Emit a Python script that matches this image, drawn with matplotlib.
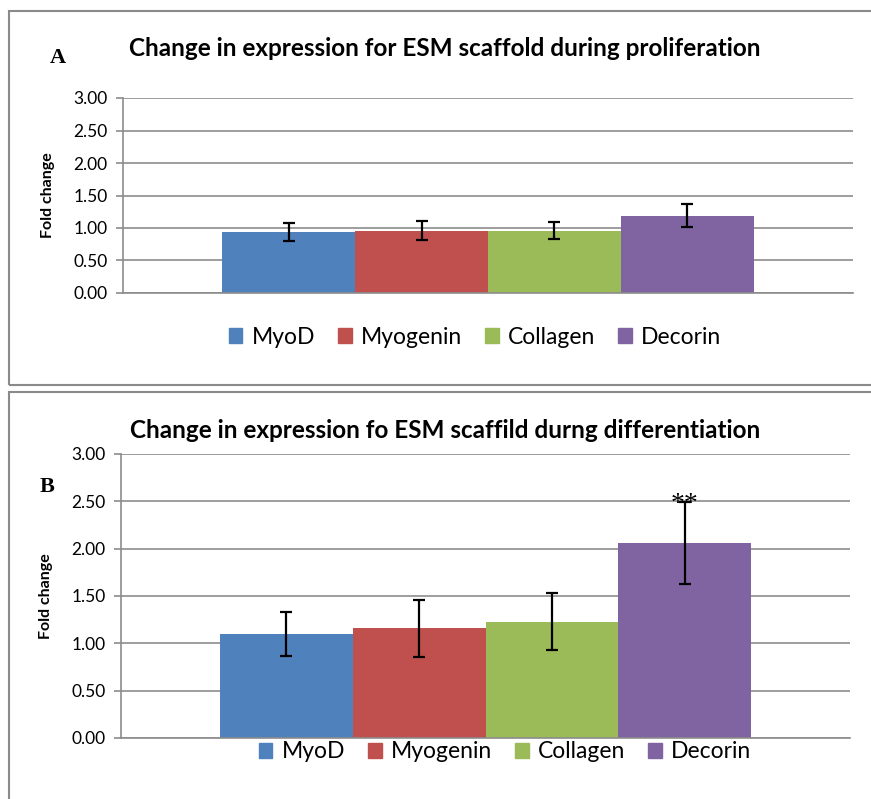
import matplotlib
matplotlib.use("Agg")
import matplotlib.pyplot as plt
from matplotlib.patches import Patch, Rectangle

# Data
genes = ["MyoD", "Myogenin", "Collagen", "Decorin"]
colors = ["#4F81BD", "#C0504D", "#9BBB59", "#8064A2"]

prolif_mean = [0.94, 0.96, 0.96, 1.19]
prolif_err = [0.14, 0.14, 0.13, 0.18]

diff_mean = [1.10, 1.16, 1.23, 2.06]
diff_err = [0.235, 0.30, 0.30, 0.43]

yticks = [0.0, 0.5, 1.0, 1.5, 2.0, 2.5, 3.0]

plt.rcParams["font.family"] = ["Lato", "DejaVu Sans"]

W, H = 871, 799
fig = plt.figure(figsize=(W / 100, H / 100), dpi=100)
grid_col = "#8c8c8c"


def px(x0, y0, x1, y1):
    # pixel box -> figure fraction [left, bottom, width, height]
    return [x0 / W, 1 - y1 / H, (x1 - x0) / W, (y1 - y0) / H]


def draw_panel(ax, means, errs):
    bw = 0.182
    for i, (m, e, c) in enumerate(zip(means, errs, colors)):
        xpos = (i - 1.5) * bw
        ax.bar(xpos, m, width=bw, color=c, zorder=2)
        ax.errorbar(xpos, m, yerr=e, fmt="none", ecolor="black",
                    elinewidth=1.6, capsize=4.5, capthick=1.6, zorder=3)
    ax.set_xlim(-0.5, 0.5)
    ax.set_ylim(0, 3)
    ax.set_yticks(yticks)
    ax.set_yticklabels([f"{t:.2f}" for t in yticks], fontsize=12.5)
    ax.set_xticks([])
    ax.yaxis.grid(True, color=grid_col, linewidth=1.2, zorder=0)
    ax.set_axisbelow(True)
    for s in ["top", "right"]:
        ax.spines[s].set_visible(False)
    ax.spines["left"].set_color(grid_col)
    ax.spines["bottom"].set_color(grid_col)
    ax.spines["left"].set_linewidth(1.2)
    ax.spines["bottom"].set_linewidth(1.2)
    ax.tick_params(axis="y", length=5, width=1.2, color=grid_col, pad=6)
    ax.set_ylabel("Fold change", fontsize=11.5, fontweight="bold")
    ax.yaxis.set_label_coords(-0.093, 0.5)


# panel borders
fig.patches.append(Rectangle((9 / W, 1 - 385 / H), 880 / W, 374 / H,
                             transform=fig.transFigure, fill=False,
                             edgecolor="#8a8a8a", linewidth=1.5))
fig.patches.append(Rectangle((9 / W, 1 - 815 / H), 880 / W, 423 / H,
                             transform=fig.transFigure, fill=False,
                             edgecolor="#8a8a8a", linewidth=1.5))

# Panel A
axA = fig.add_axes(px(123, 98, 853, 293))
draw_panel(axA, prolif_mean, prolif_err)
fig.text(445 / W, 1 - 48 / H, "Change in expression for ESM scaffold during proliferation",
         ha="center", va="center", fontsize=17.5, fontweight="bold")
fig.text(58 / W, 1 - 58 / H, "A", ha="center", va="center", fontsize=16,
         fontweight="bold", family="Liberation Serif")
handles = [Patch(color=c, label=g) for g, c in zip(genes, colors)]
fig.legend(handles=handles, loc="center", bbox_to_anchor=(475 / W, 1 - 337 / H),
           ncol=4, frameon=False, fontsize=16.5, handlelength=0.6, handleheight=0.6,
           handletextpad=0.4, columnspacing=1.0)

# Panel B
axB = fig.add_axes(px(121, 454, 850, 738))
draw_panel(axB, diff_mean, diff_err)
fig.text(445 / W, 1 - 430 / H, "Change in expression fo ESM scaffild durng differentiation",
         ha="center", va="center", fontsize=17.5, fontweight="bold")
fig.text(47 / W, 1 - 487 / H, "B", ha="center", va="center", fontsize=16,
         fontweight="bold", family="Liberation Serif")
axB.text(1.5 * 0.182, diff_mean[3] + diff_err[3] - 0.02, "**", ha="center", va="center",
         fontsize=20, family="Liberation Serif")
fig.legend(handles=handles, loc="center", bbox_to_anchor=(505 / W, 1 - 752 / H),
           ncol=4, frameon=False, fontsize=16.5, handlelength=0.6, handleheight=0.6,
           handletextpad=0.4, columnspacing=1.0)

fig.savefig("out.png", dpi=100)
